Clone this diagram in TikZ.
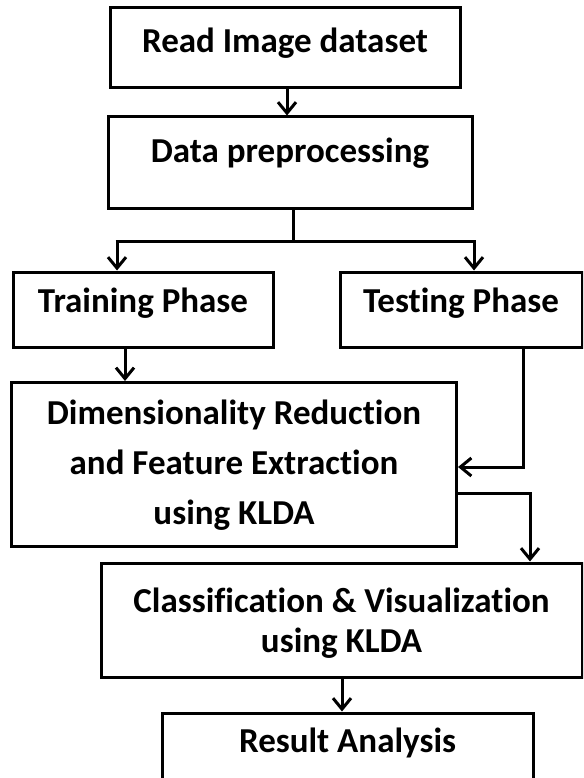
\documentclass[tikz,border=0pt]{standalone}
\usepackage{fontspec}
\setmainfont{Carlito}[Ligatures=NoCommon]
\usetikzlibrary{arrows.meta,calc}
\begin{document}
\begin{tikzpicture}[x=1pt,y=-1pt,
  box/.style={draw=black, line width=3pt, minimum width=#1, inner sep=0pt},
  lbl/.style={font=\bfseries\fontsize{35}{50}\selectfont, align=center, inner sep=0pt},
  arr/.style={line width=3pt, -{Straight Barb[length=11pt,width=18pt,line width=3pt]}},
  ln/.style={line width=3pt}]
\useasboundingbox (0,0) rectangle (583,778);
\begin{scope}
\clip (0,0) rectangle (583,778);
% boxes
\node[box=350pt, minimum height=80pt]  (read)  at (285,48)    {};
\node[box=364pt, minimum height=91pt]  (pre)   at (290,162.5) {};
\node[box=260pt, minimum height=75pt]  (train) at (143,309.5) {};
\node[box=242pt, minimum height=75pt]  (test)  at (461,309.5) {};
\node[box=445pt, minimum height=164pt] (dr)    at (234,464.5) {};
\node[box=481pt, minimum height=114pt] (cls)   at (341.5,620) {};
\node[box=371pt, minimum height=90pt]  (res)   at (347.5,758) {};
% labels
\node[lbl] (tread)  at (285,43)  {Read Image dataset};
\node[lbl] (tpre)   at (290,153) {Data preprocessing};
\node[lbl] (ttrain) at (143,303) {Training Phase};
\node[lbl] (ttest)  at (461,303) {Testing Phase};
\node[lbl] (tdr)    at (234,465) {Dimensionality Reduction\\and Feature Extraction\\using KLDA};
\node[lbl, font=\bfseries\fontsize{35}{40}\selectfont] (tcls) at (341.5,623) {Classification \& Visualization\\using KLDA};
\node[lbl] (tres)   at (347.5,743) {Result Analysis};
% connectors
\coordinate (split) at (293,241);
\draw[arr] ([xshift=2pt]read.south) -- ([xshift=2pt]read.south |- pre.north);
\draw[ln] ([xshift=3pt]pre.south) -- (split);
\draw[arr] (117,241) -- (117,241 |- train.north);
\draw[arr] (474,241) -- (474,241 |- test.north);
\draw[ln] (115.5,241) -- (475.5,241);
\draw[arr] (125,0 |- train.south) -- (125,0 |- dr.north);
\draw[arr] (523,0 |- test.south) |- (dr.east |- 0,467);
\draw[arr] (dr.east |- 0,493) -| (530,0 |- cls.north);
\draw[arr] (342,0 |- cls.south) -- (342,0 |- res.north);
\end{scope}
\end{tikzpicture}
\end{document}
